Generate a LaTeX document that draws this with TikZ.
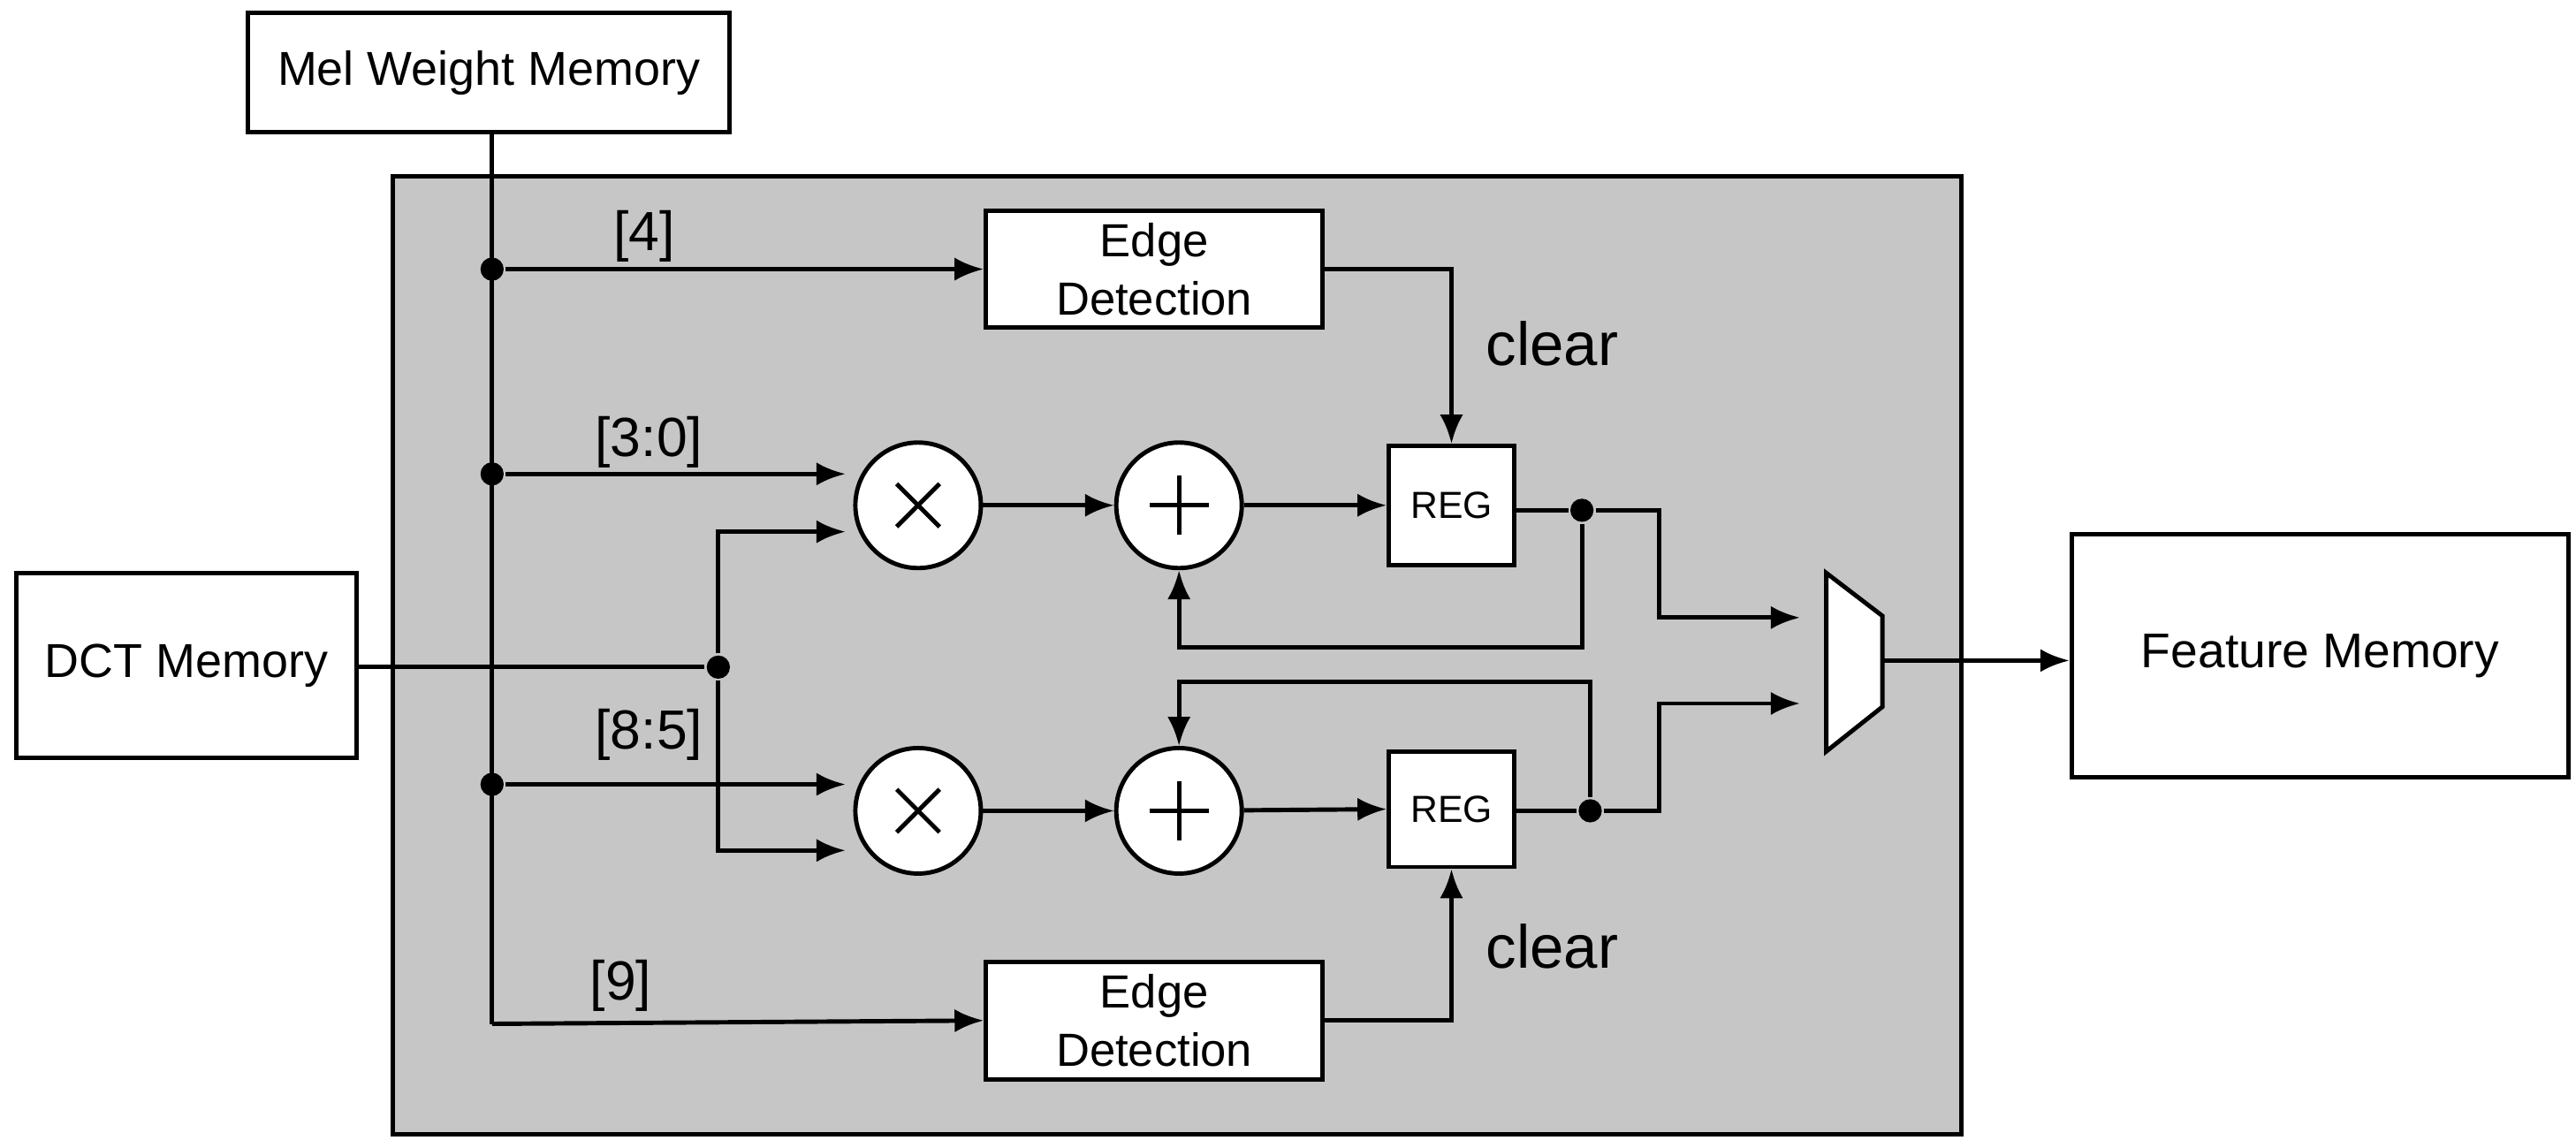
\documentclass[tikz,border=0pt]{standalone}
\usepackage{fontspec}
\setmainfont{Liberation Sans}
\usetikzlibrary{arrows.meta,calc}
\begin{document}
\begin{tikzpicture}[x=0.01cm,y=-0.01cm,line width=0.75pt,
  arr/.style={-{Latex[length=5pt,width=4pt]}},
  box/.style={draw,fill=white,inner sep=0pt,align=center},
  op/.style={draw,fill=white,circle,minimum size=76*0.01cm,inner sep=0pt},
  dot/.style={circle,fill,inner sep=0pt,minimum size=4pt},
  lab/.style={font=\fontsize{9.5}{11}\selectfont}]
\useasboundingbox (0,0) rectangle (1560,695);
\fill[gray!45!white,draw=black] (238,107) rectangle (1188,687);
\node[box,minimum width=292*0.01cm,minimum height=72*0.01cm,font=\fontsize{8.2}{10}\selectfont] (mel) at (296,44) {Mel Weight Memory};
\node[box,minimum width=206*0.01cm,minimum height=112*0.01cm,font=\fontsize{8.2}{10}\selectfont] (dct) at (113,403) {DCT Memory};
\node[box,minimum width=301*0.01cm,minimum height=147*0.01cm,font=\fontsize{8.4}{10}\selectfont] (fm) at (1405,397) {Feature Memory};
\node[box,minimum width=204*0.01cm,minimum height=71*0.01cm,font=\fontsize{8}{10}\selectfont] (ed1) at (699,163) {Edge\\Detection};
\node[box,minimum width=204*0.01cm,minimum height=71*0.01cm,font=\fontsize{8}{10}\selectfont] (ed2) at (699,618) {Edge\\Detection};
\node[box,minimum width=76*0.01cm,minimum height=72*0.01cm,font=\fontsize{6.5}{8}\selectfont] (r1) at (879,306) {REG};
\node[box,minimum width=76*0.01cm,minimum height=70*0.01cm,font=\fontsize{6.5}{8}\selectfont] (r2) at (879,490) {REG};
\node[op] (m1) at (556,306) {}; \node[op] (a1) at (714,306) {};
\node[op] (m2) at (556,491) {}; \node[op] (a2) at (714,491) {};
\foreach \n in {m1,m2}{\draw ($(\n)+(-13,-13)$) -- ($(\n)+(13,13)$) ($(\n)+(-13,13)$) -- ($(\n)+(13,-13)$);}
\foreach \n in {a1,a2}{\draw ($(\n)+(-18,0)$) -- ($(\n)+(18,0)$) ($(\n)+(0,-18)$) -- ($(\n)+(0,18)$);}
\draw[fill=white] (1106,347) -- (1140,373) -- (1140,428) -- (1106,455) -- cycle;
\coordinate (mux) at (1140,400);
% mel line
\coordinate (vb) at (298,620);
\draw (mel.south -| vb) -- (vb);
\node[dot] (d1) at (298,163) {}; \node[dot] (d2) at (298,287) {}; \node[dot] (d3) at (298,475) {};
\draw[arr] (d1) -- (ed1.west);
\draw[arr] (d2) -- (512,287);
\draw[arr] (d3) -- (512,475);
\draw[arr] (vb) -- (ed2.west);
\node[lab] at (390,143) {[4]}; \node[lab] at (393,268) {[3:0]};
\node[lab] at (393,445) {[8:5]}; \node[lab] at (376,597) {[9]};
% dct
\node[dot] (dd) at (435,404) {};
\draw (dct.east |- dd) -- (dd);
\draw[arr] (dd) -- (435,322) -- (512,322);
\draw[arr] (dd) -- (435,515) -- (512,515);
% chains
\draw[arr] (m1) -- (a1.west); \draw[arr] (a1) -- (r1.west);
\draw[arr] (m2) -- (a2.west); \draw[arr] (a2) -- (r2.west);
% clears
\draw[arr] (ed1.east) -| (r1.north);
\draw[arr] (ed2.east) -| (r2.south);
\node[font=\fontsize{10.5}{12}\selectfont] at (940,208) {clear};
\node[font=\fontsize{10.5}{12}\selectfont] at (940,573) {clear};
% outputs
\node[dot] (o1) at (958,309) {}; \node[dot] (o2) at (963,491) {};
\draw (r1.east |- o1) -- (o1); \draw (r2.east |- o2) -- (o2);
\draw[arr] (o1) -- (1005,309) -- (1005,374) -- (1090,374);
\draw[arr] (o2) -- (1005,491) -- (1005,426) -- (1090,426);
\draw[arr] (o1) -- (958,392) -- (714,392) -- (a1.south);
\draw[arr] (o2) -- (963,413) -- (714,413) -- (a2.north);
\draw[arr] (mux) -- (fm.west |- mux);
\end{tikzpicture}
\end{document}
